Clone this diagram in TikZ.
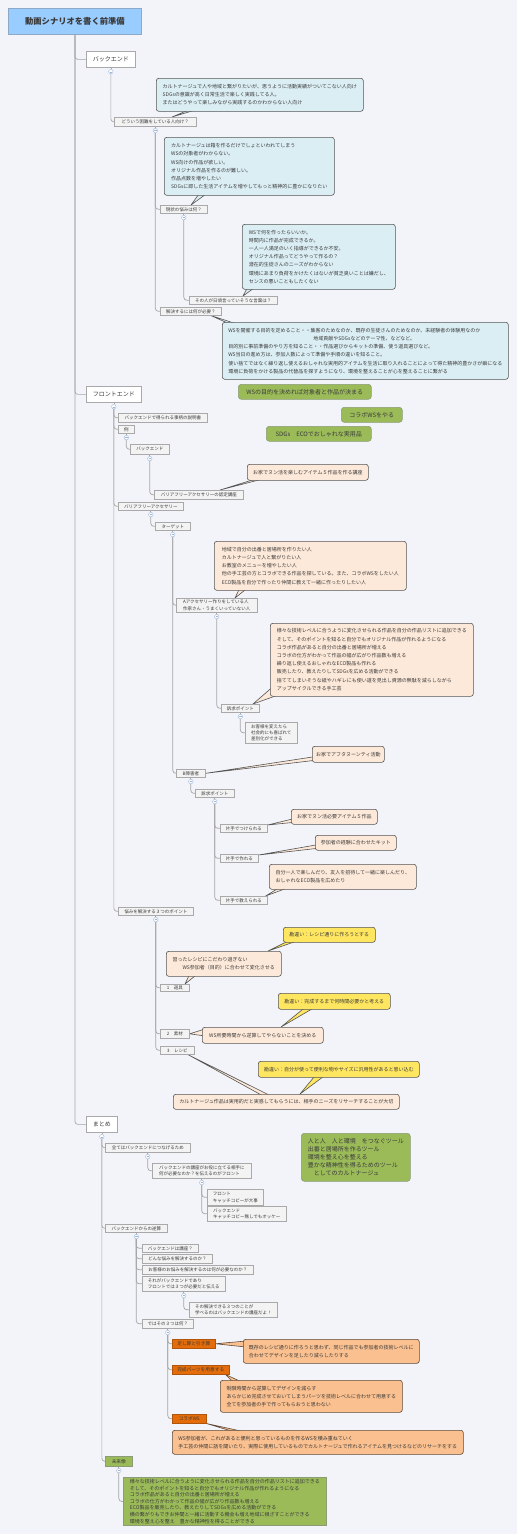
\documentclass[tikz,border=0pt]{standalone}
\usepackage{fontspec}
\setmainfont{Noto Sans CJK JP}
\usetikzlibrary{calc}
\definecolor{bgc}{HTML}{F2F4F9}
\definecolor{lineg}{HTML}{A6A6A6}
\definecolor{nodeb}{HTML}{A9A9A9}
\definecolor{nodef}{HTML}{F3F3F3}
\definecolor{txt}{HTML}{3A3A3A}
\definecolor{rootf}{HTML}{99CCFF}
\definecolor{rootb}{HTML}{8EA9C8}
\definecolor{callb}{HTML}{555555}
\definecolor{lbf}{HTML}{DBEEF4}
\definecolor{pcf}{HTML}{FDE9D9}
\definecolor{ycf}{HTML}{FFE660}
\definecolor{ocf}{HTML}{FAC08F}
\definecolor{ocb}{HTML}{5E4A3A}
\definecolor{gnf}{HTML}{9BBB59}
\definecolor{gnb}{HTML}{8C9C78}
\definecolor{onf}{HTML}{E46C0A}
\definecolor{onb}{HTML}{B0560C}
\definecolor{kcb}{HTML}{9DB5D8}
\pgfdeclarelayer{bgl}
\pgfdeclarelayer{lines}
\pgfsetlayers{bgl,lines,main}
\newcommand{\bx}[7]{\node[#1,anchor=north west,minimum width=#5pt,minimum height=#6pt] (#2) at (#3,#4) {#7};}
\newcommand{\kc}[2]{\node[kcs] (#1) at ($(#2.south)+(0,4)$) {};}
\begin{document}
\begin{tikzpicture}[x=1pt,y=-1pt,
  conn/.style={draw=lineg,line width=0.7pt,rounded corners=3pt},
  snode/.style={draw=nodeb,fill=nodef,line width=0.6pt,inner sep=1pt,font=\fontsize{4.5}{6.3}\selectfont,text=txt,align=left},
  mnode/.style={draw=nodeb,fill=white,line width=0.7pt,inner sep=1pt,font=\fontsize{6}{7}\selectfont,text=txt},
  rootnode/.style={draw=rootb,fill=rootf,line width=0.8pt,inner sep=1pt,font=\fontsize{8.3}{9}\selectfont\bfseries,text=txt},
  callbase/.style={draw=callb,line width=0.6pt,rounded corners=2.5pt,inner sep=2pt,align=left,font=\fontsize{5}{8.2}\selectfont,text=txt},
  lb/.style={callbase,fill=lbf},
  pc/.style={callbase,fill=pcf},
  yc/.style={callbase,fill=ycf},
  oc/.style={callbase,fill=ocf,draw=ocb},
  gn/.style={draw=gnb,fill=gnf,line width=0.6pt,rounded corners=3pt,inner sep=2pt,align=left,font=\fontsize{6}{8.1}\selectfont,text=txt},
  onode/.style={draw=onb,fill=onf,line width=0.5pt,inner sep=1pt,font=\fontsize{4.7}{6}\selectfont,text=txt},
  gbox/.style={draw=gnb,fill=gnf,line width=0.6pt,inner sep=2pt,align=left,font=\fontsize{5}{6.6}\selectfont,text=txt},
  gsmall/.style={draw=gnb,fill=gnf,line width=0.6pt,inner sep=1pt,font=\fontsize{4.7}{6}\selectfont,text=txt},
  kcs/.style={circle,draw=kcb,fill=white,minimum size=4.5pt,inner sep=0pt,line width=0.4pt,
    path picture={\draw[kcb,line width=0.4pt] ([xshift=-1.2pt]path picture bounding box.center) -- ([xshift=1.2pt]path picture bounding box.center);}},
  wedge/.style={draw=callb,line width=0.6pt,line join=miter}
]
\begin{pgfonlayer}{bgl}
\fill[bgc] (0,0) rectangle (517,1534);
\end{pgfonlayer}
\useasboundingbox (0,0) rectangle (517,1534);

% ---------- tree nodes ----------
\bx{rootnode}{root}{8}{8}{133}{26}{動画シナリオを書く前準備}
\bx{mnode}{be}{86}{51}{49}{16}{バックエンド}
\bx{snode}{nwho}{114}{117}{82}{9}{どういう困難をしている人向け？}
\bx{snode}{nnow}{160}{205}{47}{8}{現状の悩みは何？}
\bx{snode}{nsay}{189}{296}{88}{8}{その人が日頃言っていそうな言葉は？}
\bx{snode}{nsol}{160}{307}{61}{8}{解決するには何が必要？}

\bx{mnode}{fe}{86}{386}{55}{16}{フロントエンド}
\bx{snode}{nexp}{118}{413}{89}{9}{バックエンドで得られる事柄の説明書}
\bx{snode}{nrei}{118}{425}{16}{8}{例}
\bx{snode}{nbe2}{130}{444}{39}{10}{バックエンド}
\bx{snode}{ncert}{154}{490}{89}{9}{バリアフリーアクセサリーの認定講座}
\bx{snode}{nbfa}{118}{502}{65}{8}{バリアフリーアクセサリー}
\bx{snode}{ntgt}{155}{522}{35}{8}{ターゲット}
\bx{snode}{nA}{176}{598}{81}{14}{Aアクセサリー作りをしている人\\作家さん・うまくいっていない人}
\bx{snode}{nappA}{221}{704}{38}{8}{訴求ポイント}
\bx{snode}{ndiff}{245}{722}{52}{21}{お客様を変えたら\\社会的にも喜ばれて\\差別化ができる}
\bx{snode}{nB}{176}{769}{29}{8}{B障害者}
\bx{snode}{nappB}{195}{789}{39}{8}{訴求ポイント}
\bx{snode}{nhA}{220}{824}{47}{8}{片手でつけられる}
\bx{snode}{nhB}{220}{854}{38}{8}{片手で作れる}
\bx{snode}{nhC}{220}{896}{47}{8}{片手で教えられる}
\bx{snode}{nthree}{118}{907}{75}{8}{悩みを解決する３つのポイント}
\bx{snode}{npA}{160}{984}{29}{7}{1　道具}
\bx{snode}{npB}{160}{1029}{29}{9}{2　素材}
\bx{snode}{npC}{160}{1046}{34}{8}{3　レシピ}

\bx{mnode}{mt}{86}{1116}{31}{16}{まとめ}
\bx{snode}{nall}{105}{1143}{85}{9}{全てはバックエンドにつなげるため}
\bx{snode}{nfront}{152}{1163}{99}{15}{バックエンドの講座がお役に立てる相手に\\何が必要なのか？を伝えるのがフロント}
\bx{snode}{nfA}{207}{1189}{56}{16}{フロント\\キャッチコピーが大事}
\bx{snode}{nfB}{207}{1206}{79}{15}{バックエンド\\キャッチコピー無しでもオッケー}
\bx{snode}{nrev}{105}{1224}{62}{8}{バックエンドからの逆算}
\bx{snode}{nqA}{142}{1244}{56}{8}{バックエンドは講座？}
\bx{snode}{nqB}{142}{1254}{70}{9}{どんな悩みを解決するのか？}
\bx{snode}{nqC}{142}{1265}{111}{9}{お客様のお悩みを解決するのは何が必要なのか？}
\bx{snode}{nqD}{142}{1276}{83}{15}{それがバックエンドであり\\フロントでは３つが必要だと伝える}
\bx{snode}{nqDa}{189}{1302}{88}{15}{その解決できる３つのことが\\学べるのはバックエンドの講座だよ！}
\bx{snode}{nqE}{142}{1319}{51}{9}{ではその３つは何？}
\bx{onode}{noA}{172}{1339}{43}{9}{足し算と引き算}
\bx{onode}{noB}{172}{1365}{57}{9}{完成パーツを用意する}
\bx{onode}{noC}{172}{1414}{34}{9}{コラボWS}
\bx{gsmall}{nfut}{105}{1456}{27}{10}{未来像}
\bx{gbox}{gfut}{123}{1477}{203}{48}{様々な技術レベルに合うように変化させられる作品を自分の作品リストに追加できる\\そして、そのポイントを知ると自分でもオリジナル作品が作れるようになる\\コラボ作品があると自分の出番と居場所が増える\\コラボの仕方がわかって作品の幅が広がり作品数も増える\\ECO製品を販売したり、教えたりしてSDGsを広める活動ができる\\横の繋がりもできお仲間と一緒に活動する機会も増え地域に根ざすことができる\\環境を整え心を整え　豊かな精神性を得ることができる}

% ---------- collapse circles ----------
\kc{kbe}{be}
\kc{kwho}{nwho}
\kc{know}{nnow}
\kc{kfe}{fe}
\kc{krei}{nrei}
\kc{kbe2}{nbe2}
\kc{kbfa}{nbfa}
\kc{ktgt}{ntgt}
\kc{kA}{nA}
\kc{kappA}{nappA}
\kc{kB}{nB}
\kc{kappB}{nappB}
\kc{kthree}{nthree}
\kc{kmt}{mt}
\kc{kall}{nall}
\kc{kfront}{nfront}
\kc{krev}{nrev}
\kc{kqD}{nqD}
\kc{kqE}{nqE}
\kc{kfut}{nfut}

% ---------- callouts & notes ----------
\bx{lb}{cA}{156}{78}{207}{33}{カルトナージュで人や地域と繋がりたいが、思うように活動実績がついてこない人向け\\SDGsの意識が高く日常生活で楽しく実践してる人。\\またはどうやって楽しみながら実践するのかわからない人向け}
\bx{lb}{cB}{164}{137}{170}{58}{カルトナージュは箱を作るだけでしょといわれてしまう\\WSの対象者がわからない。\\WS向けの作品が欲しい。\\オリジナル作品を作るのが難しい。\\作品点数を増やしたい\\SDGsに即した生活アイテムを増やしてもっと精神的に豊かになりたい}
\bx{lb}{cC}{242}{224}{153}{65}{WSで何を作ったらいいか。\\時間内に作品が完成できるか。\\一人一人満足のいく指導ができるか不安。\\オリジナル作品ってどうやって作るの？\\潜在的生徒さんのニーズがわからない\\環境にあまり負荷をかけたくはないが貧乏臭いことは嫌だし、\\センスの悪いこともしたくない}
\bx{lb}{cD}{222}{322}{286}{57}{WSを開催する目的を定めること・・集客のためなのか、既存の生徒さんのためなのか、未経験者の体験用なのか\\\hspace*{85pt}地域貢献やSDGsなどのテーマ性、などなど。\\目的別に事前準備のやり方を知ること・・作品選びからキットの準備、使う道具選びなど。\\WS当日の進め方は、参加人数によって準備や手順の違いを知ること。\\使い捨てではなく繰り返し使えるおしゃれな実用的アイテムを生活に取り入れることによって得た精神的豊かさが癖になる\\環境に負荷をかける製品の代替品を探すようになり、環境を整えることが心を整えることに繋がる}
\bx{gn}{gA}{238}{384}{133}{15}{WSの目的を決めれば対象者と作品が決まる}
\bx{gn}{gB}{341}{407}{61}{15}{コラボWSをやる}
\bx{gn}{gC}{266}{426}{105}{15}{SDGs　ECOでおしゃれな実用品}
\bx{pc}{cE}{247}{464}{121}{16}{お家でヌン活を楽しむアイテム５作品を作る講座}
\bx{pc}{cF}{214}{541}{192}{49}{地域で自分の出番と居場所を作りたい人\\カルトナージュで人と繋がりたい人\\お教室のメニューを増やしたい人\\他の手工芸の方とコラボできる作品を探している。また、コラボWSをしたい人\\ECO製品を自分で作ったり仲間に教えて一緒に作ったりしたい人}
\bx{pc}{cG}{270}{623}{203}{73}{様々な技術レベルに合うように変化させられる作品を自分の作品リストに追加できる\\そして、そのポイントを知ると自分でもオリジナル作品が作れるようになる\\コラボ作品があると自分の出番と居場所が増える\\コラボの仕方がわかって作品の幅が広がり作品数も増える\\繰り返し使えるおしゃれなECO製品も作れる\\販売したり、教えたりしてSDGsを広める活動ができる\\捨ててしまいそうな紙やハギレにも使い道を見出し資源の無駄を減らしながら\\アップサイクルできる手工芸}
\bx{pc}{cH}{312}{746}{72}{16}{お家でアフタヌーンティ活動}
\bx{pc}{cI}{291}{809}{86}{15}{お家でヌン活必要アイテム５作品}
\bx{pc}{cJ}{315}{835}{81}{15}{参加者の経験に合わせたキット}
\bx{pc}{cK}{269}{864}{147}{25}{自分一人で楽しんだり、友人を招待して一緒に楽しんだり、\\おしゃれなECO製品を広めたり}
\bx{yc}{yA}{283}{927}{92}{15}{勘違い：レシピ通りに作ろうとする}
\bx{pc}{cL}{166}{951}{115}{25}{習ったレシピにこだわり過ぎない\\　　WS参加者（目的）に合わせて変化させる}
\bx{yc}{yB}{278}{993}{112}{16}{勘違い：完成するまで何時間必要かと考える}
\bx{pc}{cM}{202}{1027}{121}{16}{WS所要時間から逆算してやらないことを決める}
\bx{yc}{yC}{258}{1061}{161}{16}{勘違い：自分が使って便利な物やサイズに汎用性があると思い込む}
\bx{pc}{cN}{173}{1094}{226}{15}{カルトナージュ作品は実用的だと実感してもらうには、相手のニーズをリサーチすることが大切}
\bx{gn}{gM}{301}{1133}{109}{48}{人と人　人と環境　をつなぐツール\\出番と居場所を作るツール\\環境を整え心を整える\\豊かな精神性を得るためのツール\\　としてのカルトナージュ}
\bx{oc}{oA}{243}{1339}{176}{24}{既存のレシピ通りに作ろうと思わず、同じ作品でも参加者の技術レベルに\\合わせてデザインを足したり減らしたりする}
\bx{oc}{oB}{220}{1380}{182}{32}{制限時間から逆算してデザインを減らす\\あらかじめ完成させておいてしまうパーツを技術レベルに合わせて用意する\\全てを参加者の手で作ってもらおうと思わない}
\bx{oc}{oC}{172}{1430}{291}{24}{WS参加者が、これがあると便利と思っているものを作るWSを積み重ねていく\\手工芸の仲間に話を聞いたり、実際に使用しているものでカルトナージュで作れるアイテムを見つけるなどのリサーチをする}

% ---------- connectors ----------
\begin{pgfonlayer}{lines}
\draw[conn] (root.south) |- (be.west);
\draw[conn] (root.south) |- (fe.west);
\draw[conn] (root.south) |- (mt.west);
\foreach \p/\k in {be/kbe,nwho/kwho,nnow/know,fe/kfe,nrei/krei,nbe2/kbe2,nbfa/kbfa,ntgt/ktgt,nA/kA,nappA/kappA,nB/kB,nappB/kappB,nthree/kthree,mt/kmt,nall/kall,nfront/kfront,nrev/krev,nqD/kqD,nqE/kqE,nfut/kfut}
  \draw[conn] (\p.south) -- (\k);
\foreach \k/\c in {kbe/nwho,kwho/nnow,kwho/nsol,know/nsay,kfe/nexp,kfe/nrei,kfe/nbfa,kfe/nthree,krei/nbe2,kbe2/ncert,kbfa/ntgt,ktgt/nA,ktgt/nB,kA/nappA,kappA/ndiff,kB/nappB,kappB/nhA,kappB/nhB,kappB/nhC,kthree/npA,kthree/npB,kthree/npC,kmt/nall,kmt/nrev,kmt/nfut,kall/nfront,kfront/nfA,kfront/nfB,krev/nqA,krev/nqB,krev/nqC,krev/nqD,krev/nqE,kqD/nqDa,kqE/noA,kqE/noB,kqE/noC,kfut/gfut}
  \draw[conn] (\k.south) |- (\c.west);
% callout pointers
\draw[wedge,fill=lbf] ($(cA.south west)+(36,-3)$) -- ($(nwho.north west)+(58,0)$) -- ($(cA.south west)+(44,-3)$);
\draw[wedge,fill=lbf] ($(cB.south west)+(36,-3)$) -- ($(nnow.north west)+(31,0)$) -- ($(cB.south west)+(44,-3)$);
\draw[wedge,fill=lbf] ($(cC.south west)+(6,-3)$) -- ($(nsay.north west)+(54,0)$) -- ($(cC.south west)+(14,-3)$);
\draw[wedge,fill=lbf] ($(cD.north west)+(10,3)$) -- ($(nsol.south west)+(51,0)$) -- ($(cD.north west)+(18,3)$);
\draw[wedge,fill=pcf] ($(cE.south west)+(13,-3)$) -- ($(ncert.north west)+(66,0)$) -- ($(cE.south west)+(21,-3)$);
\draw[wedge,fill=pcf] ($(cF.south west)+(26,-3)$) -- ($(nA.north west)+(59,0)$) -- ($(cF.south west)+(34,-3)$);
\draw[wedge,fill=pcf] ($(cG.south west)+(3,-10)$) -- ($(nappA.north west)+(32,0)$) -- ($(cG.south west)+(12,-3)$);
\draw[wedge,fill=pcf] ($(cH.south west)+(3,-6)$) -- (nB.east) -- ($(cH.south west)+(9,-3)$);
\draw[wedge,fill=pcf] ($(cI.south west)+(3,-6)$) -- ($(nhA.north east)+(0,1)$) -- ($(cI.south west)+(10,-3)$);
\draw[wedge,fill=pcf] ($(cJ.south west)+(3,-6)$) -- ($(nhB.north east)+(0,1)$) -- ($(cJ.south west)+(9,-3)$);
\draw[wedge,fill=pcf] ($(cK.south west)+(12,-3)$) -- ($(nhC.north east)+(-2,0)$) -- ($(cK.south west)+(22,-3)$);
\draw[wedge,fill=ycf] ($(yA.south west)+(8,-3)$) -- ($(cL.north west)+(102,0)$) -- ($(yA.south west)+(18,-3)$);
\draw[wedge,fill=pcf] ($(cL.south west)+(24,-3)$) -- ($(npA.north west)+(25,0)$) -- ($(cL.south west)+(32,-3)$);
\draw[wedge,fill=ycf] ($(yB.south west)+(28,-3)$) -- ($(cM.north west)+(79,0)$) -- ($(yB.south west)+(38,-3)$);
\draw[wedge,fill=pcf] ($(cM.north west)+(3,2)$) -- (npB.east) -- ($(cM.north west)+(3,9)$);
\draw[wedge,fill=ycf] ($(yC.south west)+(58,-3)$) -- ($(cN.north west)+(127,0)$) -- ($(yC.south west)+(68,-3)$);
\draw[wedge,fill=pcf] ($(cN.north west)+(92,3)$) -- ($(npC.south west)+(28,0)$) -- ($(cN.north west)+(100,3)$);
\draw[wedge,fill=ocf,draw=ocb] ($(oA.north west)+(3,2)$) -- (noA.east) -- ($(oA.north west)+(3,8)$);
\draw[wedge,fill=ocf,draw=ocb] ($(oB.north west)+(14,3)$) -- ($(noB.south east)+(-4,0)$) -- ($(oB.north west)+(24,3)$);
\draw[wedge,fill=ocf,draw=ocb] ($(oC.north west)+(66,3)$) -- (noC.south east) -- ($(oC.north west)+(78,3)$);
\end{pgfonlayer}
\end{tikzpicture}
\end{document}
